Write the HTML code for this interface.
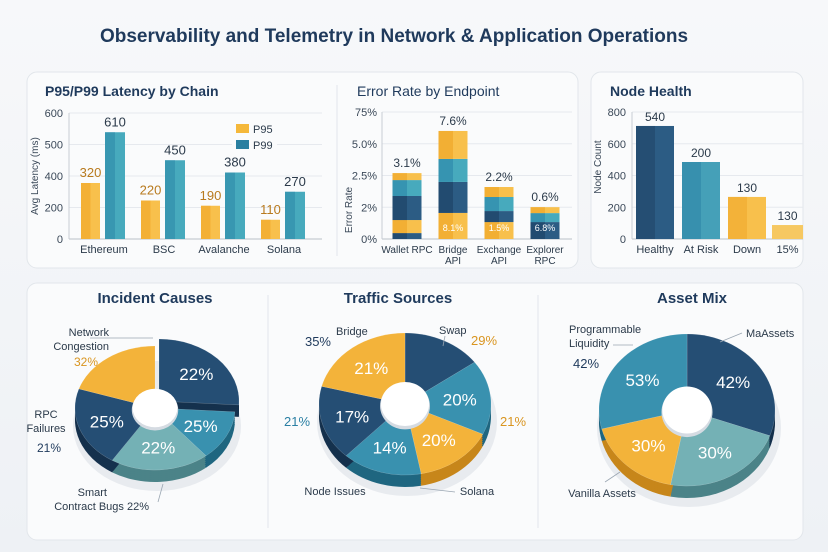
<!DOCTYPE html>
<html><head><meta charset="utf-8"><style>
html,body{margin:0;padding:0;background:#f3f5f8;}
svg{display:block;font-family:"Liberation Sans",sans-serif;}
</style></head><body>
<svg id="s" width="828" height="552" viewBox="0 0 828 552" xmlns="http://www.w3.org/2000/svg">
<defs>
<linearGradient id="bg" x1="0" y1="0" x2="0" y2="1"><stop offset="0" stop-color="#f7f8fa"/><stop offset="1" stop-color="#eef1f5"/></linearGradient>
</defs>
<rect width="828" height="552" fill="url(#bg)"/>
<text x="394" y="42" text-anchor="middle" font-size="19" font-weight="bold" fill="#1f3a5c">Observability and Telemetry in Network &amp; Application Operations</text>
<rect x="27" y="72" width="551" height="196" rx="10" fill="#fafbfc" stroke="#e2e6eb"/>
<rect x="591" y="72" width="212" height="196" rx="10" fill="#fafbfc" stroke="#e2e6eb"/>
<rect x="27" y="283" width="776" height="257" rx="10" fill="#fafbfc" stroke="#e2e6eb"/>
<line x1="337" y1="85" x2="337" y2="256" stroke="#e2e6eb"/>
<line x1="268" y1="295" x2="268" y2="528" stroke="#e2e6eb"/>
<line x1="538" y1="295" x2="538" y2="528" stroke="#e2e6eb"/>
<text x="45" y="96" font-size="14" font-weight="bold" fill="#1f3a5c">P95/P99 Latency by Chain</text>
<text x="357" y="96" font-size="14" fill="#1f3a5c">Error Rate by Endpoint</text>
<text x="610" y="96" font-size="14" font-weight="bold" fill="#1f3a5c">Node Health</text>
<text transform="translate(38,176) rotate(-90)" text-anchor="middle" font-size="10" fill="#3a4858">Avg Latency (ms)</text>
<text transform="translate(352,210) rotate(-90)" text-anchor="middle" font-size="10" fill="#3a4858">Error Rate</text>
<text transform="translate(601,167) rotate(-90)" text-anchor="middle" font-size="10" fill="#3a4858">Node Count</text>
<g id="g"></g>
<rect x="232" y="120" width="45" height="33" fill="#fafbfc"/>
<rect x="236" y="124" width="13" height="9" fill="#f5b83a"/>
<text x="253" y="133" font-size="11" fill="#2b3a4a">P95</text>
<rect x="236" y="140" width="13" height="9" fill="#2a7fa0"/>
<text x="253" y="149" font-size="11" fill="#2b3a4a">P99</text>
<text x="155" y="303" text-anchor="middle" font-size="15" font-weight="bold" fill="#1f3a5c">Incident Causes</text>
<text x="398" y="303" text-anchor="middle" font-size="15" font-weight="bold" fill="#1f3a5c">Traffic Sources</text>
<text x="692" y="303" text-anchor="middle" font-size="15" font-weight="bold" fill="#1f3a5c">Asset Mix</text>
</svg>
<script>
// ---- Latency chart data ----
const chains = ["Ethereum","BSC","Avalanche","Solana"];
const p95 = [320,220,190,110];
const p99 = [610,450,380,270];
const latTicks = ["0","200","400","500","600"];
// ---- Error rate data ----
const endpoints = ["Wallet RPC","Bridge|API","Exchange|API","Explorer|RPC"];
const errSegments = [[0.35,0.77,1.42,0.94,0.41],[1.54,1.83,1.36,1.65],[1.0,0.65,0.83,0.59],[1.0,0.53,0.35]];
const errKinds = [["n","y","n","t","y"],["y","n","t","y"],["y","n","t","y"],["n","t","y"]];
const errTotals = ["3.1%","7.6%","2.2%","0.6%"];
const errInner = ["","8.1%","1.5%","6.8%"];
const errTicks = ["0%","2%","2.5%","5.0%","75%"];
// ---- Node health data ----
const nodeCats = ["Healthy","At Risk","Down","15%"];
const nodeVals = [712,485,265,88];
const nodeLabels = ["540","200","130","130"];
const nodeTicks = ["0","200","400","600","800"];
// ---- Pie data ----
const incidentVals = [0.26,0.13,0.20,0.21,0.20];
const incidentLabels = ["22%","25%","22%","25%",""];
const incidentKinds = ["n","b","l","n","y"];
const trafficVals = [0.15,0.17,0.15,0.15,0.17,0.21];
const trafficLabels = ["","20%","20%","14%","17%","21%"];
const trafficKinds = ["n","b","y","b","n","y"];
const assetVals = [0.305,0.225,0.18,0.29];
const assetLabels = ["42%","30%","30%","53%"];
const assetKinds = ["n","l","y","b"];

const NS="http://www.w3.org/2000/svg";
const G=document.getElementById('g');
function mk(tag,attrs,parent){const e=document.createElementNS(NS,tag);for(const k in attrs)e.setAttribute(k,attrs[k]);(parent||G).appendChild(e);return e;}
function txt(x,y,s,size,fill,anchor,weight){const t=mk('text',{x:x,y:y,'font-size':size,fill:fill,'text-anchor':anchor||'middle'});if(weight)t.setAttribute('font-weight',weight);t.textContent=s;return t;}
const COL={n:["#1d3f62","#2c5c84"],y:["#eea325","#f8c04c"],t:["#2b86a8","#47aabd"],b:["#2a7fa3","#45a0b8"],l:["#5f9fa8","#86bfc0"]};
const SIDE={n:"#15314d",y:"#c7861a",t:"#1f6680",b:"#1f6680",l:"#4b8388"};

// ===== Latency chart =====
const L={x0:69,x1:322,y0:239,y1:113,max:720};
function ly(v){return L.y0-(v/L.max)*(L.y0-L.y1);}
function lx(i){return 104+i*60;}
latTicks.forEach((t,i)=>{const y=L.y0-i*(L.y0-L.y1)/(latTicks.length-1);
 const gl=mk('line',{x1:L.x0,x2:L.x1,y1:y,y2:y,stroke:i?"#e6e9ee":"#b9c0c8"});
 
 
 const tl=txt(L.x0-6,y+4,t,11,"#3a4858","end");
 
 });
mk('line',{x1:L.x0,x2:L.x0,y1:L.y1,y2:L.y0,stroke:"#c8cdd4"});
chains.forEach((c,i)=>{const cx=lx(i);
 [[p95[i],cx-23,19,"y","#b87a1e"],[p99[i],cx+1,20,"t","#2b3a4a"]].forEach(([v,x,w,k,lc],j)=>{
  const y=ly(v);
  const r=mk('rect',{x:x,y:y,width:w,height:L.y0-y,fill:COL[k][1]});
  
  
  mk('rect',{x:x,y:y,width:w/2,height:L.y0-y,fill:COL[k][0],opacity:0.55});
  const l=txt(x+w/2,y-6,String(v),13,lc);
  
  });
 const xl=txt(cx,253,c,11,"#2b3a4a");
 
 });

// ===== Error rate chart =====
const E={x0:382,x1:572,y0:239,y1:112,max:7.5};
function ey(v){return (v/E.max)*(E.y0-E.y1);}
errTicks.forEach((t,i)=>{const y=E.y0-i*(E.y0-E.y1)/(errTicks.length-1);
 const gl=mk('line',{x1:E.x0,x2:E.x1,y1:y,y2:y,stroke:i?"#e6e9ee":"#b9c0c8"});
 
 
 const tl=txt(E.x0-5,y+4,t,11,"#3a4858","end");
 
 });
mk('line',{x1:E.x0,x2:E.x0,y1:E.y1,y2:E.y0,stroke:"#c8cdd4"});
endpoints.forEach((ep,i)=>{const cx=407+i*46,w=29,x=cx-w/2;let y=E.y0;
 errSegments[i].forEach((v,j)=>{const h=ey(v);y-=h;const k=errKinds[i][j];
  const r=mk('rect',{x:x,y:y,width:w,height:h,fill:COL[k][1]});
  
  
  mk('rect',{x:x,y:y,width:w/2,height:h,fill:COL[k][0],opacity:0.6});});
 const tl=txt(cx,y-6,errTotals[i],12,"#2b3a4a");
 
 
 if(errInner[i]){const il=txt(cx,E.y0-8,errInner[i],9,"#ffffff");
  
  }
 ep.split('|').forEach((p,k)=>{const xl=txt(cx,253+k*11,p,10,"#2b3a4a");
  
  });});

// ===== Node health =====
const N={x0:632,x1:803,y0:239,y1:112,max:800};
function ny(v){return N.y0-(v/N.max)*(N.y0-N.y1);}
nodeTicks.forEach((t,i)=>{const y=N.y0-i*(N.y0-N.y1)/(nodeTicks.length-1);
 const gl=mk('line',{x1:N.x0,x2:N.x1,y1:y,y2:y,stroke:i?"#e6e9ee":"#b9c0c8"});
 
 
 const tl=txt(N.x0-6,y+4,t,11,"#3a4858","end");
 
 });
mk('line',{x1:N.x0,x2:N.x0,y1:N.y1,y2:N.y0,stroke:"#c8cdd4"});
const nodeK=["n","b","y","y"];const nodeX=[636,682,728,772];const nodeW=[38,38,38,31];
nodeCats.forEach((c,i)=>{const y=ny(nodeVals[i]);const k=nodeK[i];
 const r=mk('rect',{x:nodeX[i],y:y,width:nodeW[i],height:N.y0-y,fill:i==3?"#f6c862":COL[k][1]});
 
 
 if(i<3) mk('rect',{x:nodeX[i],y:y,width:nodeW[i]/2,height:N.y0-y,fill:COL[k][0],opacity:0.5});
 const l=txt(nodeX[i]+nodeW[i]/2,y-5,nodeLabels[i],12,"#2b3a4a");
 
 
 const xl=txt(nodeX[i]+nodeW[i]/2,253,c,11,"#2b3a4a");
 
 });

// ===== Pies =====
function pt(cx,cy,rx,ry,a){return [cx+rx*Math.sin(a),cy-ry*Math.cos(a)];}
function slicePath(cx,cy,rx,ry,a0,a1){const p0=pt(cx,cy,rx,ry,a0),p1=pt(cx,cy,rx,ry,a1);const lg=(a1-a0)>Math.PI?1:0;
 return `M${cx},${cy}L${p0[0]},${p0[1]}A${rx},${ry} 0 ${lg} 1 ${p1[0]},${p1[1]}Z`;}
function pie(name,cx,cy,rx,ry,depth,vals,kinds,labels,explode){
 const tot=vals.reduce((a,b)=>a+b,0);let a=0;const arcs=[];
 vals.forEach((v,i)=>{const s=v/tot*2*Math.PI;arcs.push([a,a+s]);a+=s;});
 mk('ellipse',{cx:cx+2,cy:cy+depth+6,rx:rx+4,ry:ry+3,fill:"#dfe4ea",opacity:0.7});
 arcs.forEach(([a0,a1],i)=>{const off=explode&&i===0?[4,-7]:[0,0];
  for(let d=depth;d>0;d-=2){mk('path',{d:slicePath(cx+off[0],cy+off[1]+d,rx,ry,a0,a1),fill:SIDE[kinds[i]]});}});
 arcs.forEach(([a0,a1],i)=>{const off=explode&&i===0?[4,-7]:[0,0];const k=kinds[i];
  const p=mk('path',{d:slicePath(cx+off[0],cy+off[1],rx,ry,a0,a1),fill:COL[k][1],stroke:"#ffffff","stroke-width":0.5,"stroke-opacity":0.4});
  
  
  mk('path',{d:slicePath(cx+off[0],cy+off[1],rx,ry,a0,a1),fill:COL[k][0],opacity:0.45});
  if(labels[i]){const m=(a0+a1)/2;const q=pt(cx+off[0],cy+off[1],rx*0.64,ry*0.64,m);
   const t=txt(q[0],q[1]+6,labels[i],17,"#ffffff");
   
   }});
 mk('ellipse',{cx:cx,cy:cy+2,rx:rx*0.29,ry:ry*0.33,fill:"#d5dbe2"});
 const h=mk('ellipse',{cx:cx,cy:cy,rx:rx*0.28,ry:ry*0.31,fill:"#ffffff"});
 
 }
pie('incident',155,408,80,62,12,incidentVals,incidentKinds,incidentLabels,true);
pie('traffic',405,404,86,71,12,trafficVals,trafficKinds,trafficLabels,false);
pie('asset',687,410,88,76,12,assetVals,assetKinds,assetLabels,false);

// outer annotations
const ann=[
 [109,336,"Network",11,"#2b3a4a","end"],[109,350,"Congestion",11,"#2b3a4a","end"],[98,366,"32%",12,"#d99520","end"],
 [46,418,"RPC",11,"#2b3a4a","middle"],[46,432,"Failures",11,"#2b3a4a","middle"],[61,452,"21%",12,"#1f3a5c","end"],
 [107,496,"Smart",11,"#2b3a4a","end"],[149,510,"Contract Bugs 22%",11,"#2b3a4a","end"],
 [336,335,"Bridge",11,"#2b3a4a","start"],[331,346,"35%",13,"#1f3a5c","end"],
 [439,334,"Swap",11,"#2b3a4a","start"],[471,345,"29%",13,"#d99520","start"],
 [297,426,"21%",13,"#2a7fa3","middle"],[513,426,"21%",13,"#d99520","middle"],
 [335,495,"Node Issues",11,"#2b3a4a","middle"],[477,495,"Solana",11,"#2b3a4a","middle"],
 [569,333,"Programmable",11,"#2b3a4a","start"],[569,347,"Liquidity",11,"#2b3a4a","start"],[573,368,"42%",13,"#1f3a5c","start"],
 [746,337,"MaAssets",11,"#2b3a4a","start"],[602,497,"Vanilla Assets",11,"#2b3a4a","middle"]];
ann.forEach(a=>{const t=txt(a[0],a[1],a[2],a[3],a[4],a[5]);
 
 });
[[90,338,153,338],[163,484,158,502],[445,336,443,346],[420,488,455,492],[613,345,633,345],[742,333,720,342],[620,472,605,482]].forEach(l=>{
 const e=mk('line',{x1:l[0],y1:l[1],x2:l[2],y2:l[3],stroke:"#9aa6b2","stroke-width":0.8});
 
 });
</script>
</body></html>
